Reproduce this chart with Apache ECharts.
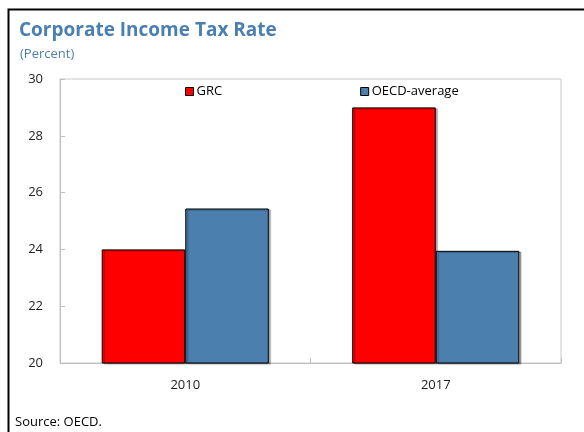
<!DOCTYPE html>
<html>
<head>
<meta charset="utf-8">
<script src="https://cdn.jsdelivr.net/npm/echarts@6/dist/echarts.min.js"></script>
<style>
html,body{margin:0;padding:0;background:#fff;}
#c{width:584px;height:432px;}
</style>
</head>
<body>
<div id="c"></div>
<script>
const categories = ['2010', '2017'];
const grc = [24.0, 29.0];
const oecd = [25.44, 23.95];
const yTicks = [20, 22, 24, 26, 28, 30];

const FONT = '"Open Sans", "Noto Sans", sans-serif';
const chart = echarts.init(document.getElementById('c'), null, {renderer: 'canvas'});
const barStyle = (color) => ({
  color: color,
  borderColor: '#000',
  borderWidth: 1,
  shadowColor: 'rgba(0,0,0,0.3)',
  shadowOffsetX: 2,
  shadowOffsetY: 1,
  shadowBlur: 1
});
chart.setOption({
  animation: false,
  backgroundColor: '#fff',
  title: [
    {text: 'Corporate Income Tax Rate', left: 14, top: 16,
     textStyle: {fontFamily: FONT, fontSize: 19, fontWeight: 'bold', color: '#4a7fb0'}},
    {text: '(Percent)', left: 15, top: 43,
     textStyle: {fontFamily: FONT, fontSize: 13, fontWeight: 'normal', color: '#4a7fb0'}},
    {text: 'Source: OECD.', left: 10, top: 411,
     textStyle: {fontFamily: FONT, fontSize: 13, fontWeight: 'normal', color: '#000'}}
  ],
  legend: {
    top: 80, left: 180,
    itemGap: 138,
    itemWidth: 8, itemHeight: 8,
    icon: 'rect',
    textStyle: {fontFamily: FONT, fontSize: 13, color: '#000', padding: [0,0,0,-2]},
    data: [
      {name: 'GRC', itemStyle: {color: '#ff0000', borderColor: '#000', borderWidth: 1}},
      {name: 'OECD-average', itemStyle: {color: '#4a7fae', borderColor: '#000', borderWidth: 1}}
    ]
  },
  grid: {left: 60, right: 23, top: 79, bottom: 69, show: true, borderColor: '#c8c8c8', borderWidth: 1},
  xAxis: {
    type: 'category', data: categories,
    axisLine: {lineStyle: {color: '#c0c0c0', width: 1}},
    axisTick: {show: true, inside: true, length: 5, lineStyle: {color: '#c0c0c0'}},
    axisLabel: {fontFamily: FONT, fontSize: 13, color: '#222', margin: 16}
  },
  yAxis: {
    type: 'value', min: 20, max: 30, interval: 2,
    axisLine: {show: true, lineStyle: {color: '#c0c0c0'}},
    axisTick: {show: true, inside: true, length: 5, lineStyle: {color: '#c0c0c0'}},
    splitLine: {show: false},
    axisLabel: {fontFamily: FONT, fontSize: 13, color: '#222', margin: 17,
      formatter: (v) => yTicks.includes(v) ? String(v) : ''}
  },
  series: [
    {name: 'GRC', type: 'bar', data: grc, barGap: '0%', barCategoryGap: '33.3%', itemStyle: barStyle('#ff0000')},
    {name: 'OECD-average', type: 'bar', data: oecd, barGap: '0%', barCategoryGap: '33.3%', itemStyle: barStyle('#4a7fae')}
  ],
  graphic: [
    {type: 'rect', shape: {x: 8.5, y: 9.5, width: 700, height: 600}, style: {fill: 'none', stroke: '#000', lineWidth: 2}, silent: true}
  ]
});
</script>
</body>
</html>
